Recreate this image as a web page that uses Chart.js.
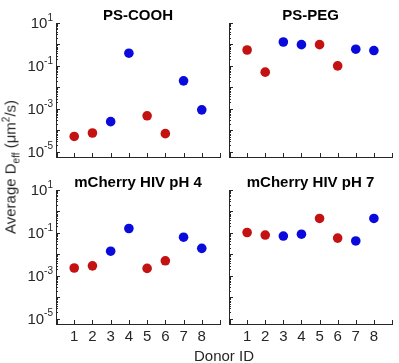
<!DOCTYPE html>
<html>
<head>
<meta charset="utf-8">
<script src="https://cdn.jsdelivr.net/npm/chart.js@4/dist/chart.umd.min.js"></script>
<style>
body { margin: 0; background: #fff; }
#wrap { position: relative; width: 399px; height: 363px; font-family: "Liberation Sans", Arial, sans-serif; color: #262626; }
canvas { position: absolute; left: 0; top: 0; }
.ylab { position: absolute; left: 10px; top: 167px; transform: translate(-50%, -50%) rotate(-90deg); white-space: nowrap; font-size: 15px; line-height: 15px; }
.ylab sub, .ylab sup { font-size: 10px; line-height: 0; }
.xlab { position: absolute; left: 224px; top: 355px; transform: translate(-50%, -50%); white-space: nowrap; font-size: 15px; }
</style>
</head>
<body>
<div id="wrap">
  <canvas id="c1" width="399" height="363"></canvas>
  <canvas id="c2" width="399" height="363"></canvas>
  <canvas id="c3" width="399" height="363"></canvas>
  <canvas id="c4" width="399" height="363"></canvas>
  <div class="ylab">Average D<sub>eff</sub> (&mu;m<sup>2</sup>/s)</div>
  <div class="xlab">Donor ID</div>
</div>
<script>
// donors and their group colour
var donors = [1, 2, 3, 4, 5, 6, 7, 8];
var donorColors = ['#c41212', '#c41212', '#0a0adc', '#0a0adc', '#c41212', '#c41212', '#0a0adc', '#0a0adc'];

// average D_eff per donor (um^2/s)
var psCooh = [5.1e-5, 7.4e-5, 2.5e-4, 0.39, 4.7e-4, 6.9e-5, 0.020, 8.9e-4];
var psPeg = [0.55, 0.051, 1.3, 0.98, 0.98, 0.10, 0.60, 0.52];
var mchPh4 = [2.3e-3, 2.9e-3, 0.014, 0.16, 2.2e-3, 5.0e-3, 0.063, 0.019];
var mchPh7 = [0.104, 0.079, 0.071, 0.087, 0.47, 0.057, 0.042, 0.47];

var xTicks = [1, 2, 3, 4, 5, 6, 7, 8, 9];
var xTickLabels = ['1', '2', '3', '4', '5', '6', '7', '8', ''];
var yLabelExps = [1, -1, -3, -5];
var yMin = Math.pow(10, -5.25), yMax = 10;

var ink = '#262626';

var panelDecor = {
    id: 'panelDecor',
    afterDraw: function (chart, args, opts) {
        var ctx = chart.ctx, xs = chart.scales.x, ys = chart.scales.y, a = chart.chartArea;
        ctx.save();
        ctx.strokeStyle = ink;
        ctx.fillStyle = ink;
        ctx.lineWidth = 1;
        ctx.beginPath();
        // inward ticks on x
        xTicks.forEach(function (v) {
            var px = Math.round(xs.getPixelForValue(v)) + 0.5;
            ctx.moveTo(px, a.bottom);
            ctx.lineTo(px, a.bottom - 4);
        });
        // log ticks on y, major + minor
        for (var e = -6; e <= 1; e++) {
            for (var m = 1; m <= 9; m++) {
                var v = m * Math.pow(10, e);
                if (v < ys.min * 0.999 || v > ys.max * 1.001) continue;
                var py = Math.round(ys.getPixelForValue(v)) + 0.5;
                ctx.moveTo(a.left, py);
                ctx.lineTo(a.left + (m === 1 ? 4 : 2), py);
            }
        }
        ctx.stroke();

        if (opts.yLabels) {
            ctx.textBaseline = 'middle';
            ctx.textAlign = 'left';
            yLabelExps.forEach(function (ex) {
                var py = ys.getPixelForValue(Math.pow(10, ex));
                var sup = String(ex);
                ctx.font = '10px "Liberation Sans", Arial, sans-serif';
                var wSup = ctx.measureText(sup).width;
                ctx.font = '15px "Liberation Sans", Arial, sans-serif';
                var wBase = ctx.measureText('10').width;
                var right = a.left - 3;
                ctx.fillText('10', right - wSup - wBase, py + 1);
                ctx.font = '10px "Liberation Sans", Arial, sans-serif';
                ctx.fillText(sup, right - wSup, py - 5);
            });
        }
        if (opts.xLabels) {
            ctx.font = '15px "Liberation Sans", Arial, sans-serif';
            ctx.textAlign = 'center';
            ctx.textBaseline = 'top';
            xTicks.forEach(function (v, i) {
                ctx.fillText(xTickLabels[i], xs.getPixelForValue(v), a.bottom + 5);
            });
        }
        ctx.fillStyle = '#000';
        ctx.font = 'bold 15px "Liberation Sans", Arial, sans-serif';
        ctx.textAlign = 'center';
        ctx.textBaseline = 'alphabetic';
        ctx.fillText(opts.title, (a.left + a.right) / 2, a.top - 3);
        ctx.restore();
    }
};

function makePanel(id, title, values, area, showY, showX) {
    new Chart(document.getElementById(id), {
        type: 'scatter',
        data: {
            datasets: [{
                data: donors.map(function (d, i) { return { x: d, y: values[i] }; }),
                pointBackgroundColor: donorColors,
                pointBorderWidth: 0,
                pointRadius: 4.8,
                pointHoverRadius: 4.8
            }]
        },
        options: {
            responsive: false,
            animation: false,
            events: [],
            layout: {
                padding: { left: area[0], top: area[1], right: 399 - area[2], bottom: 363 - area[3] }
            },
            plugins: {
                legend: { display: false },
                tooltip: { enabled: false },
                panelDecor: { title: title, yLabels: showY, xLabels: showX }
            },
            scales: {
                x: {
                    type: 'linear', min: 0, max: 9,
                    ticks: { display: false },
                    grid: { display: false, drawTicks: false },
                    border: { display: true, color: ink, width: 1 }
                },
                y: {
                    type: 'logarithmic', min: yMin, max: yMax,
                    ticks: { display: false },
                    grid: { display: false, drawTicks: false },
                    border: { display: true, color: ink, width: 1 }
                }
            }
        },
        plugins: [panelDecor]
    });
}

makePanel('c1', 'PS-COOH', psCooh, [56, 23, 220, 157], true, false);
makePanel('c2', 'PS-PEG', psPeg, [229, 23, 392, 157], false, false);
makePanel('c3', 'mCherry HIV pH 4', mchPh4, [56, 190, 220, 324], true, true);
makePanel('c4', 'mCherry HIV pH 7', mchPh7, [229, 190, 392, 324], false, true);
</script>
</body>
</html>
